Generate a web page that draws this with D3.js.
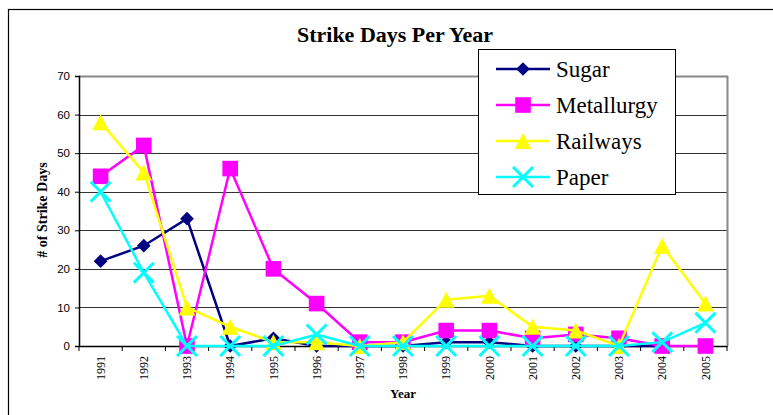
<!DOCTYPE html>
<html><head><meta charset="utf-8">
<script src="https://cdn.jsdelivr.net/npm/d3@7"></script>
<style>body{margin:0;background:#fff}svg{display:block}
.serif{font-family:"Liberation Serif","Times New Roman",Times,serif}
.sans{font-family:"Liberation Sans",Arial,Helvetica,sans-serif}
</style>
</head><body>
<svg id="c" width="773" height="415"></svg>
<script>
const years = ["1991","1992","1993","1994","1995","1996","1997","1998","1999","2000","2001","2002","2003","2004","2005"];
const sugar = [22,26,33,0,2,0,0,0,1,1,0,0,0,0,null];
const metallurgy = [44,52,0,46,20,11,1,1,4,4,2,3,2,0,0];
const railways = [58,45,10,5,1,1,0,1,12,13,5,4,0,26,11];
const paper = [40,19,0,0,0,3,0,0,0,0,0,0,0,1,6];
const yTicks = [0,10,20,30,40,50,60,70];
const seriesNames = ["Sugar","Metallurgy","Railways","Paper"];
const seriesColors = ["#000080","#FF00FF","#FFFF00","#00FFFF"];
const seriesShapes = ["diamond","square","triangle","x"];
const seriesValues = [sugar, metallurgy, railways, paper];

const svg = d3.select("#c");
const L = 79, R = 727, T = 76, B = 346;
const x = d3.scaleBand().domain(years).range([L, R]);
const y = d3.scaleLinear().domain([0, 70]).range([B, T]);

// outer frame
svg.append("rect").attr("x",8.5).attr("y",9.5).attr("width",800).attr("height",420)
  .attr("fill","none").attr("stroke","#000").attr("stroke-width",1.2);

// gridlines
svg.append("g").selectAll("line").data(yTicks.filter(d=>d>0&&d<70)).join("line")
  .attr("x1",L).attr("x2",R).attr("y1",d=>Math.round(y(d))+0.5).attr("y2",d=>Math.round(y(d))+0.5)
  .attr("stroke","#333").attr("stroke-width",1);
// plot border top and right (gray)
svg.append("line").attr("x1",L).attr("x2",R+1).attr("y1",T+0.5).attr("y2",T+0.5).attr("stroke","#888").attr("stroke-width",2);
svg.append("line").attr("x1",R+0.5).attr("x2",R+0.5).attr("y1",T).attr("y2",B).attr("stroke","#888").attr("stroke-width",2);

// y axis
const ya = svg.append("g").attr("transform",`translate(${L},0)`)
  .call(d3.axisLeft(y).tickValues(yTicks).tickSize(4).tickPadding(5));
ya.attr("font-family",null).attr("font-size",null);
ya.select(".domain").attr("stroke","#000").attr("stroke-width",1.5);
ya.selectAll(".tick line").attr("stroke","#000");
ya.selectAll("text").attr("class","sans").style("font-size","11.5px").attr("fill","#000");

// x axis
const xa = svg.append("g").attr("transform",`translate(0,${B})`)
  .call(d3.axisBottom(x).tickSize(0).tickPadding(0));
xa.attr("font-family",null).attr("font-size",null);
xa.select(".domain").attr("stroke","#000").attr("stroke-width",1.5);
xa.selectAll(".tick line").remove();
xa.selectAll(".tick text").attr("class","serif").style("font-size","12px").attr("fill","#000")
  .attr("transform","rotate(-90)").attr("text-anchor","end").attr("x",-10).attr("y",0).attr("dy","0.35em");
// x ticks at category boundaries
svg.append("g").selectAll("line").data(years.concat(["end"])).join("line")
  .attr("x1",(d,i)=>L + i*x.step()).attr("x2",(d,i)=>L + i*x.step())
  .attr("y1",B).attr("y2",B+5).attr("stroke","#000").attr("stroke-width",1);

// series
const triBox = {draw(ctx, size){ const s = Math.sqrt(size); ctx.moveTo(0,-s/2); ctx.lineTo(s*0.52, s/2); ctx.lineTo(-s*0.52, s/2); ctx.closePath(); }};
const sym = {
  diamond: d3.symbol().type(d3.symbolDiamond2).size(120),
  square: d3.symbol().type(d3.symbolSquare2).size(310),
  triangle: d3.symbol().type(triBox).size(256),
  x: d3.symbol().type(d3.symbolX).size(260)
};
const line = d3.line().defined(d=>d.v!=null).x(d=>x(d.k)+x.bandwidth()/2).y(d=>y(d.v));
seriesValues.forEach((vals,si)=>{
  const pts = years.map((k,i)=>({k, v: vals[i]}));
  const g = svg.append("g");
  g.append("path").attr("d",line(pts)).attr("fill","none").attr("stroke",seriesColors[si]).attr("stroke-width",2.5);
  const shape = seriesShapes[si];
  g.selectAll("path.m").data(pts.filter(d=>d.v!=null)).join("path").attr("class","m")
    .attr("transform",d=>`translate(${x(d.k)+x.bandwidth()/2},${y(d.v)})`)
    .attr("d",sym[shape])
    .attr("fill", shape==="x" ? "none" : seriesColors[si])
    .attr("stroke", shape==="x" ? seriesColors[si] : "none")
    .attr("stroke-width", shape==="x" ? 3 : 0);
});

// title
svg.append("text").attr("class","serif").attr("x",395).attr("y",42).attr("text-anchor","middle")
  .style("font-weight","bold").style("font-size","22px")
  .text("Strike Days Per Year");
// axis titles
svg.append("text").attr("class","serif").attr("transform","translate(47,210) rotate(-90)").attr("text-anchor","middle")
  .style("font-weight","bold").style("font-size","14px")
  .text("# of Strike Days");
svg.append("text").attr("class","serif").attr("x",403).attr("y",398).attr("text-anchor","middle")
  .style("font-weight","bold").style("font-size","13px")
  .text("Year");

// legend
const lg = svg.append("g");
lg.append("rect").attr("x",478.5).attr("y",49.5).attr("width",197).attr("height",145)
  .attr("fill","#fff").attr("stroke","#000").attr("stroke-width",1);
seriesNames.forEach((n,i)=>{
  const cy = 69 + i*36;
  lg.append("line").attr("x1",496).attr("x2",550).attr("y1",cy).attr("y2",cy).attr("stroke",seriesColors[i]).attr("stroke-width",2.5);
  const shape = seriesShapes[i];
  lg.append("path").attr("transform",`translate(523,${cy})`).attr("d",sym[shape])
    .attr("fill", shape==="x" ? "none" : seriesColors[i])
    .attr("stroke", shape==="x" ? seriesColors[i] : "none")
    .attr("stroke-width", shape==="x" ? 3 : 0);
  lg.append("text").attr("class","serif").attr("x",556).attr("y",cy).attr("dy","0.35em")
    .style("font-size","23px").text(n);
});
</script>
</body></html>
